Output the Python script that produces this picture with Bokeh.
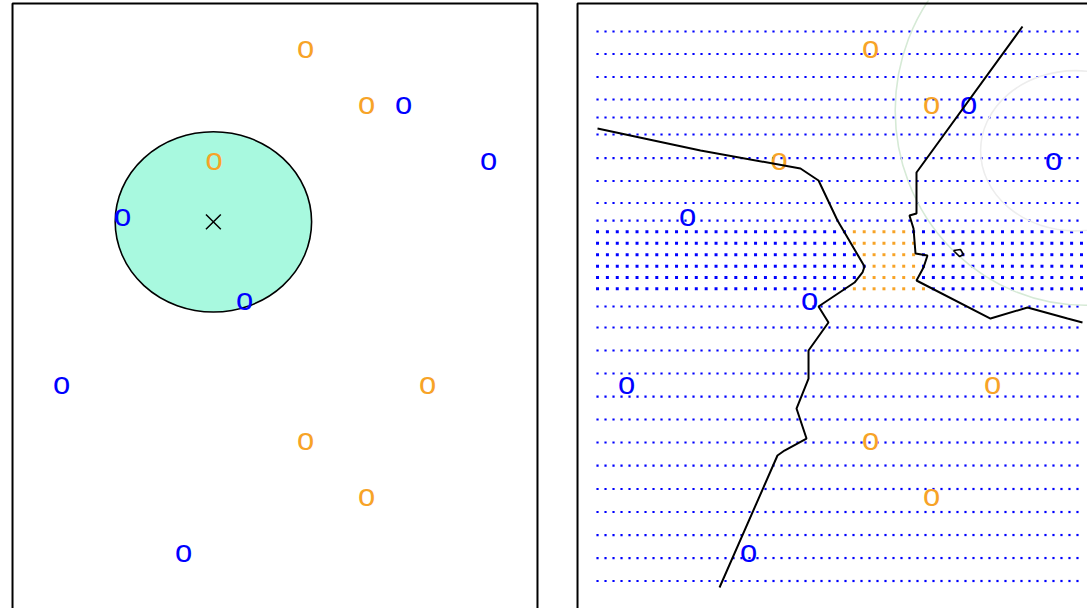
import numpy as np
from bokeh.plotting import figure
from bokeh.layouts import row
from bokeh.models import ColumnDataSource, Range1d
from bokeh.core.properties import value
from bokeh.embed import file_html
from bokeh.resources import INLINE

# ---- training observations (X1, X2, class) ----
obs_x1 = [5, 6, 6.61, 3.5, 8, 2, 4, 1, 7, 5, 6, 3]
obs_x2 = [9, 8, 8, 7, 7, 6, 4.5, 3, 3, 2, 1, 0]
obs_class = ["orange", "orange", "blue", "orange", "blue", "blue",
             "blue", "blue", "orange", "orange", "orange", "blue"]

# ---- test point and its neighbourhood ----
test_x1 = [3.49]
test_x2 = [5.94]
nbhd_radius = 1.61

# ---- evaluation grid of the classifier ----
coarse_rows = [9.339, 8.938, 8.527, 8.125, 7.804, 7.5, 7.080, 6.670, 6.277, 5.964,
               4.429, 4.054, 3.643, 3.232, 2.821, 2.411, 2.0, 1.589, 1.170, 0.759,
               0.348, -0.063, -0.473]
coarse_cols = np.linspace(0.525, 8.393, 61)
fine_rows = [5.763, 5.557, 5.354, 5.148, 4.946, 4.745]
fine_cols = np.linspace(0.525, 8.459, 50)
# columns predicted orange on each fine row (first, last index)
orange_first = [26, 26, 27, 28, 27, 26]
orange_last = [31, 32, 32, 32, 32, 33]

# ---- decision boundary pieces ----
bnd1_x = [0.525, 2.213, 3.852, 4.148, 4.459, 4.902, 4.869, 4.738, 4.148, 4.311,
          3.984, 3.984, 3.787, 3.951, 3.590, 3.475, 2.525]
bnd1_y = [7.607, 7.214, 6.893, 6.679, 5.964, 5.143, 5.036, 4.857, 4.429, 4.143,
          3.643, 3.143, 2.607, 2.071, 1.857, 1.768, -0.589]
bnd2_x = [7.492, 5.754, 5.754, 5.639, 5.705, 5.738, 5.934, 5.869, 5.754, 6.967,
          7.574, 8.230, 8.475]
bnd2_y = [9.429, 6.821, 6.089, 6.054, 5.821, 5.375, 5.339, 5.125, 4.893, 4.214,
          4.411, 4.214, 4.143]
islet_x = [6.361, 6.475, 6.525, 6.459, 6.393, 6.361]
islet_y = [5.429, 5.446, 5.357, 5.321, 5.393, 5.429]

ORANGE = "#F7A327"
BLUE = "#0000FF"
FONT = value("Liberation Sans")
FONT_SIZE = "31px"

Y_RANGE = (-0.964, 9.893)
# panel box edges in data units
BOX_LEFT, BOX_RIGHT, BOX_TOP, BOX_BOTTOM = 0.197, 8.803, 9.839, -1.5


def base_figure(width, x_range):
    p = figure(width=width, height=608, x_range=Range1d(*x_range),
               y_range=Range1d(*Y_RANGE), output_backend="svg",
               toolbar_location=None, x_axis_location=None, y_axis_location=None,
               min_border=0, outline_line_color=None,
               background_fill_color="white", border_fill_color="white")
    p.xgrid.visible = False
    p.ygrid.visible = False
    return p


def draw_box(p):
    p.line([BOX_LEFT, BOX_LEFT, BOX_RIGHT, BOX_RIGHT],
           [BOX_BOTTOM, BOX_TOP, BOX_TOP, BOX_BOTTOM],
           line_color="black", line_width=2)


def draw_points(p):
    p.text(x="x", y="y", text=value("o"), text_color="col", source=obs_src,
           text_font=FONT, text_font_size=FONT_SIZE, y_offset=-3,
           text_align="center", text_baseline="middle")


obs_src = ColumnDataSource(dict(x=obs_x1, y=obs_x2, c=obs_class))
obs_src.data["col"] = [ORANGE if c == "orange" else BLUE for c in obs_class]

# ---------------- left panel: the 3 nearest neighbours ----------------
left = base_figure(572, (0.0, 572 / 61))
left.ellipse(x=test_x1, y=test_x2, width=2 * nbhd_radius, height=2 * nbhd_radius,
             fill_color="#A8F9DF", line_color="black", line_width=1.6)
draw_points(left)
left.scatter(x=test_x1, y=test_x2, marker="x", size=21, line_color="black",
             line_width=1.5)
draw_box(left)

# ---------------- right panel: KNN decision boundary ----------------
right = base_figure(515, (7 / 61, 7 / 61 + 515 / 61))

cx, cy = np.meshgrid(coarse_cols, coarse_rows)
right.scatter(cx.ravel(), cy.ravel(), marker="square", size=2.2,
              fill_color=BLUE, line_color=None)

fx, fy, fc = [], [], []
for r, yv in enumerate(fine_rows):
    for k, xv in enumerate(fine_cols):
        fx.append(xv)
        fy.append(yv)
        fc.append(ORANGE if orange_first[r] <= k <= orange_last[r] else BLUE)
right.scatter(fx, fy, marker="square", size=3, fill_color=fc, line_color=None)

right.ellipse(x=[8.52], y=[7.93], width=6.23, height=6.96, fill_color=None,
              line_color="#D6EAD6", line_width=1.6)
right.ellipse(x=[8.36], y=[7.21], width=3.11, height=2.86, fill_color=None,
              line_color="#EDEDED", line_width=1.6)

draw_points(right)

right.line(bnd1_x, bnd1_y, line_color="black", line_width=2)
right.line(bnd2_x, bnd2_y, line_color="black", line_width=2)
right.line(islet_x, islet_y, line_color="black", line_width=1.6)

right.line([BOX_LEFT, BOX_LEFT, 10], [BOX_BOTTOM, BOX_TOP, BOX_TOP],
           line_color="black", line_width=2)

layout = row(left, right, spacing=0)
open("out.html", "w").write(file_html(layout, INLINE))
